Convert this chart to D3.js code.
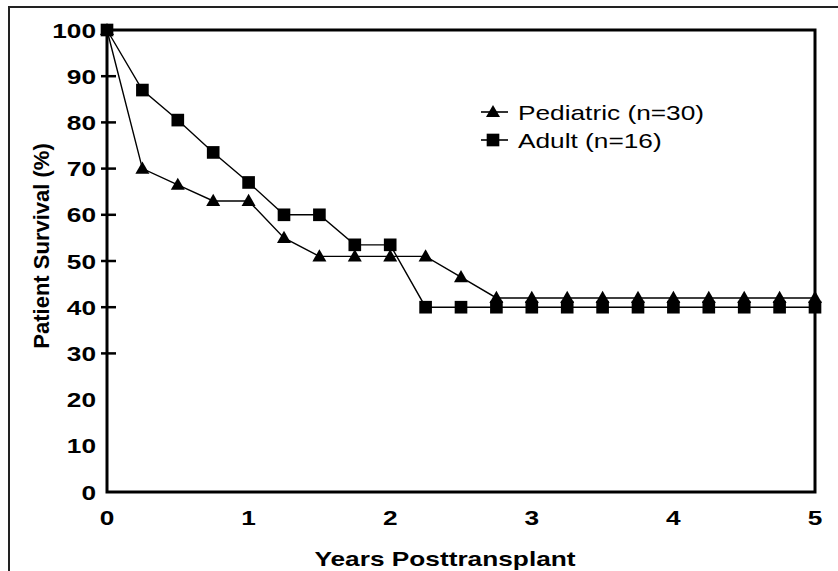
<!DOCTYPE html>
<html>
<head>
<meta charset="utf-8">
<script src="https://cdn.jsdelivr.net/npm/d3@7"></script>
<style>
    body { margin: 0; background: #fff; }
    svg { display: block; }
</style>
</head>
<body>
<svg id="chart-container" width="838" height="571"></svg>
<script>
(function () {
    'use strict';

    var years = [0, 0.25, 0.5, 0.75, 1, 1.25, 1.5, 1.75, 2, 2.25, 2.5, 2.75,
                 3, 3.25, 3.5, 3.75, 4, 4.25, 4.5, 4.75, 5];
    var pediatric = [100, 70, 66.5, 63, 63, 55, 51, 51, 51, 51, 46.5, 42,
                     42, 42, 42, 42, 42, 42, 42, 42, 42];
    var adult = [100, 87, 80.5, 73.5, 67, 60, 60, 53.5, 53.5, 40, 40, 40,
                 40, 40, 40, 40, 40, 40, 40, 40, 40];
    var seriesNames = ['Pediatric (n=30)', 'Adult (n=16)'];
    var xTickLabels = [0, 1, 2, 3, 4, 5];
    var yTickLabels = [0, 10, 20, 30, 40, 50, 60, 70, 80, 90, 100];
    var yTickMarks = [30, 40, 50, 60, 70, 80, 90];

    var FONT = '"Liberation Sans", Arial, Helvetica, sans-serif';
    var SX = 1.25; // scan is stretched sideways

    var svg = d3.select('#chart-container');
    var left = 107, right = 815, top = 30, bottom = 492;

    var x = d3.scaleLinear().domain([0, 5]).range([left, right]);
    var y = d3.scaleLinear().domain([0, 100]).range([bottom, top]);

    function addText(parent, px, py, str, size, weight, anchor) {
        parent.append('g')
            .attr('transform', 'translate(' + px + ',' + py + ') scale(' + SX + ',1)')
            .append('text')
            .attr('text-anchor', anchor)
            .attr('style', 'font-family: ' + FONT + '; font-size: ' + size + 'px; font-weight: ' + weight)
            .text(str);
    }

    // outer page frame
    svg.append('path').attr('d', 'M9,571V7H838')
        .attr('fill', 'none').attr('stroke', '#222').attr('stroke-width', 2);

    // y labels + crossing ticks
    var yGrp = svg.append('g');
    yTickLabels.forEach(function (v) {
        addText(yGrp, 96, y(v) + 7.5, v, 21, 'bold', 'end');
    });
    yTickMarks.forEach(function (v) {
        yGrp.append('line').attr('x1', left - 6).attr('x2', left + 9)
            .attr('y1', y(v)).attr('y2', y(v))
            .attr('stroke', '#000').attr('stroke-width', 2.5);
    });

    var xGrp = svg.append('g');
    xTickLabels.forEach(function (v) {
        addText(xGrp, x(v), 525, v, 21, 'bold', 'middle');
    });

    // plot box
    svg.append('rect').attr('x', left).attr('y', top)
        .attr('width', right - left).attr('height', bottom - top)
        .attr('fill', 'none').attr('stroke', '#000').attr('stroke-width', 3);

    // axis titles
    addText(svg, 445, 566, 'Years Posttransplant', 21, 'bold', 'middle');
    svg.append('text')
        .attr('transform', 'translate(49,246) rotate(-90)')
        .attr('text-anchor', 'middle')
        .attr('style', 'font-family: ' + FONT + '; font-size: 22px; font-weight: bold')
        .text('Patient Survival (%)');

    var line = d3.line()
        .x(function (d, i) { return x(years[i]); })
        .y(function (d) { return y(d); });

    var tri = d3.symbol().type(d3.symbolTriangle).size(85);
    var sq = d3.symbol().type(d3.symbolSquare).size(160);

    function drawSeries(vals, sym, dy) {
        var g = svg.append('g');
        g.append('path').attr('d', line(vals))
            .attr('fill', 'none').attr('stroke', '#000').attr('stroke-width', 1.4);
        vals.forEach(function (v, i) {
            g.append('path').attr('d', sym())
                .attr('transform', 'translate(' + x(years[i]) + ',' + (y(v) + dy) + ')')
                .attr('fill', '#000');
        });
    }
    drawSeries(adult, sq, 0);
    drawSeries(pediatric, tri, 1);

    // legend
    var lg = svg.append('g');
    var legendRows = [{sym: tri, dy: 1, yy: 112}, {sym: sq, dy: 0, yy: 140}];
    legendRows.forEach(function (r, i) {
        lg.append('line').attr('x1', 481).attr('x2', 508)
            .attr('y1', r.yy).attr('y2', r.yy)
            .attr('stroke', '#000').attr('stroke-width', 1.6);
        lg.append('path').attr('d', r.sym())
            .attr('transform', 'translate(493,' + (r.yy + r.dy) + ')').attr('fill', '#000');
        addText(lg, 518, r.yy + 7.5, seriesNames[i], 21, 'normal', 'start');
    });
})();
</script>
</body>
</html>
